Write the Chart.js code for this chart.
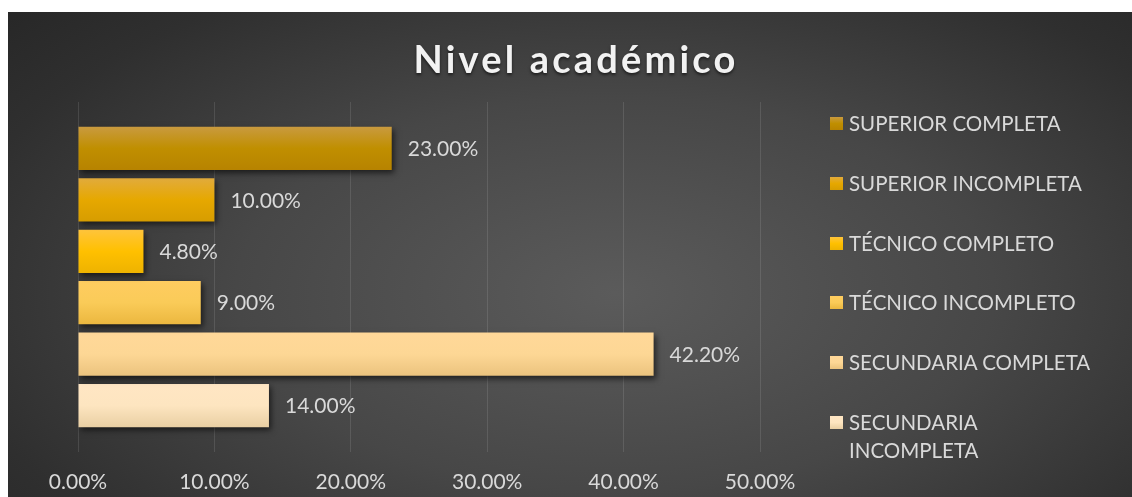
<!DOCTYPE html>
<html lang="es">
<head>
<meta charset="utf-8">
<title>Nivel académico</title>
<script src="https://cdn.jsdelivr.net/npm/chart.js@4.4.1/dist/chart.umd.min.js"></script>
<style>
  html, body { margin: 0; padding: 0; background: #ffffff; width: 1132px; height: 497px; overflow: hidden; }
  #panel {
    position: absolute; left: 8px; top: 12px; width: 1124px; height: 485px;
    background: radial-gradient(ellipse 75% 90% at 54% 58%, #5b5b5b 0%, #474747 45%, #2f2f2f 80%, #262626 100%);
    font-family: Lato, "Open Sans", sans-serif;
  }
  #grafico { position: absolute; left: 0; top: 0; }
  #titulo {
    position: absolute; left: 6px; top: 27px; width: 1124px; text-align: center;
    font-size: 38px; line-height: 38px; font-weight: bold; letter-spacing: 3.2px;
    color: #f2f2f2; text-shadow: 0 2px 3px rgba(0,0,0,0.55);
  }
  .leyenda-item { position: absolute; left: 822px; width: 290px; font-size: 20.5px; line-height: 28px; color: #d9d9d9; }
  .leyenda-item .cuadro { position: absolute; left: 0; top: 8px; width: 13px; height: 13px; }
  .leyenda-item .texto { position: absolute; left: 19px; width: 250px; }
</style>
</head>
<body>
<div id="panel">
  <canvas id="grafico" width="1124" height="485"></canvas>
  <div id="titulo">Nivel académico</div>
  <div id="leyenda"></div>
</div>
<script>
// --- DATOS ---
const categorias = ["SUPERIOR COMPLETA", "SUPERIOR INCOMPLETA", "TÉCNICO COMPLETO", "TÉCNICO INCOMPLETO", "SECUNDARIA COMPLETA", "SECUNDARIA INCOMPLETA"];
const porcentajes = [23.0, 10.0, 4.8, 9.0, 42.2, 14.0];
const ticksEjeX = [0, 10, 20, 30, 40, 50];

// --- COLORES (arriba, centro, abajo) ---
const colorArriba = ['#c99a3f', '#e2ab3c', '#ffc43c', '#ffcc60', '#ffd899', '#ffe6c4'];
const colorCentro = ['#c08f00', '#e6a800', '#ffc000', '#facb58', '#fdd795', '#fde5c0'];
const colorAbajo  = ['#b78300', '#d79d00', '#eeb300', '#ebb73f', '#ebc37e', '#e9cfa3'];

// --- LEYENDA HTML ---
const leyenda = document.getElementById('leyenda');
categorias.forEach((cat, i) => {
    const item = document.createElement('div');
    item.className = 'leyenda-item';
    item.style.top = (97 + i * 59.8) + 'px';
    item.innerHTML = `<span class="cuadro" style="background:linear-gradient(${colorArriba[i]}, ${colorCentro[i]} 50%, ${colorAbajo[i]})"></span><span class="texto">${cat}</span>`;
    leyenda.appendChild(item);
});

// --- PLUGIN: degradado, sombra y etiquetas ---
const pluginBarras = {
    id: 'pluginBarras',
    beforeDatasetsDraw(chart) {
        const ctx = chart.ctx;
        chart.data.datasets.forEach((ds, i) => {
            const el = chart.getDatasetMeta(i).data[0];
            const top = el.y - el.height / 2;
            const g = ctx.createLinearGradient(0, top, 0, top + el.height);
            g.addColorStop(0, colorArriba[i]);
            g.addColorStop(0.5, colorCentro[i]);
            g.addColorStop(1, colorAbajo[i]);
            el.options.backgroundColor = g;
        });
        ctx.save();
        ctx.shadowColor = 'rgba(0,0,0,0.6)';
        ctx.shadowBlur = 6;
        ctx.shadowOffsetX = 2;
        ctx.shadowOffsetY = 3;
    },
    afterDatasetsDraw(chart) {
        const ctx = chart.ctx;
        ctx.restore();
        ctx.save();
        ctx.font = '21px Lato, "Open Sans", sans-serif';
        ctx.fillStyle = '#d9d9d9';
        ctx.textBaseline = 'middle';
        ctx.textAlign = 'left';
        chart.data.datasets.forEach((ds, i) => {
            const el = chart.getDatasetMeta(i).data[0];
            ctx.fillText(ds.data[0].toFixed(2) + '%', el.x + 16, el.y + 1);
        });
        ctx.restore();
    }
};

const ctx = document.getElementById('grafico').getContext('2d');
const miGrafico = new Chart(ctx, {
    type: 'bar',
    data: {
        labels: [''],
        datasets: categorias.map((cat, i) => ({
            label: cat,
            data: [porcentajes[i]],
            backgroundColor: colorCentro[i],
            borderWidth: 0,
            categoryPercentage: 0.882,
            barPercentage: 0.84
        }))
    },
    options: {
        indexAxis: 'y',
        responsive: false,
        animation: false,
        devicePixelRatio: 1,
        layout: { padding: { left: 70, top: 90, right: 372, bottom: 0 } },
        plugins: {
            legend: { display: false },
            title: { display: false },
            tooltip: { enabled: false }
        },
        scales: {
            x: {
                min: 0, max: 50,
                afterBuildTicks: s => { s.ticks = ticksEjeX.map(v => ({ value: v })); },
                afterFit: s => { s.height = 45; },
                border: { display: false },
                grid: { color: 'rgba(255,255,255,0.11)', lineWidth: 1, drawTicks: false },
                ticks: {
                    padding: 18,
                    color: '#d9d9d9',
                    font: { family: 'Lato, "Open Sans", sans-serif', size: 21 },
                    callback: v => v.toFixed(2) + '%'
                }
            },
            y: { display: false }
        }
    },
    plugins: [pluginBarras]
});
</script>
</body>
</html>
